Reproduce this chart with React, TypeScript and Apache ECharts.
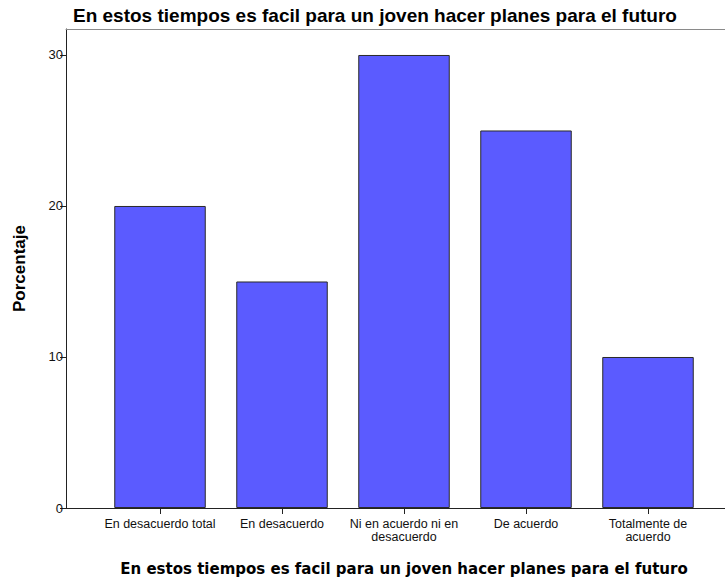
import React, { useEffect, useRef } from "react";
import * as echarts from "echarts";

const categories = [
  "En desacuerdo total",
  "En desacuerdo",
  "Ni en acuerdo ni en\ndesacuerdo",
  "De acuerdo",
  "Totalmente de\nacuerdo",
];
const percentages = [20, 15, 30, 25, 10];
const yTicks = [0, 10, 20, 30];
const titleText = "En estos tiempos es facil para un joven hacer planes para el futuro";
const yName = "Porcentaje";

export default function App() {
  const ref = useRef<HTMLDivElement>(null);
  useEffect(() => {
    if (!ref.current) return;
    const chart = echarts.init(ref.current, undefined, { renderer: "svg" });
    const yMax = 31.72;
    const gridCommon = { top: 29, bottom: 75, containLabel: false, outerBoundsMode: "none" } as any;
    chart.setOption({
      animation: false,
      backgroundColor: "#fff",
      title: {
        text: titleText,
        left: 68,
        top: 1,
        textStyle: { fontFamily: "Liberation Sans", fontSize: 19, fontWeight: "bold", color: "#000" },
      },
      grid: [
        { ...gridCommon, left: 66, right: 0 },
        { ...gridCommon, left: 99, right: 16 },
      ],
      xAxis: [
        {
          gridIndex: 0,
          type: "value",
          min: 0,
          max: 1,
          position: "bottom",
          axisLine: { show: true, lineStyle: { color: "#222", width: 1 } },
          axisTick: { show: false },
          axisLabel: { show: false },
          splitLine: { show: false },
        },
        {
          gridIndex: 0,
          type: "value",
          min: 0,
          max: 1,
          position: "top",
          axisLine: { show: true, lineStyle: { color: "#8a8a8a", width: 1 } },
          axisTick: { show: false },
          axisLabel: { show: false },
          splitLine: { show: false },
        },
        {
          gridIndex: 1,
          type: "category",
          data: categories,
          axisLine: { show: false },
          axisTick: { show: true, alignWithLabel: true, length: 6, lineStyle: { color: "#222" } },
          axisLabel: {
            fontFamily: "Liberation Sans",
            fontSize: 12.5,
            color: "#111",
            margin: 9,
            lineHeight: 13.5,
            interval: 0,
          },
          name: titleText,
          nameLocation: "middle",
          nameGap: 53,
          nameTextStyle: { fontFamily: "DejaVu Sans", fontSize: 15, fontWeight: "bold", color: "#000" },
        },
      ],
      yAxis: [
        {
          gridIndex: 0,
          type: "value",
          min: 0,
          max: yMax,
          interval: 10,
          axisLine: { show: true, lineStyle: { color: "#222", width: 1 } },
          axisTick: { show: true, length: 6, lineStyle: { color: "#222" } },
          axisLabel: {
            fontFamily: "Liberation Sans",
            fontSize: 13,
            color: "#111",
            margin: 3,
            showMaxLabel: false,
            formatter: (v: number) => (yTicks.includes(v) ? String(v) : ""),
          },
          splitLine: { show: false },
          name: yName,
          nameLocation: "middle",
          nameGap: 38,
          nameRotate: 90,
          nameTextStyle: { fontFamily: "Liberation Sans", fontSize: 17, fontWeight: "bold", color: "#000" },
        },
        {
          gridIndex: 1,
          type: "value",
          min: 0,
          max: yMax,
          show: false,
          splitLine: { show: false },
        },
      ],
      series: [
        {
          type: "bar",
          xAxisIndex: 2,
          yAxisIndex: 1,
          data: percentages,
          barWidth: "75%",
          itemStyle: { color: "#5b5bff", borderColor: "#2a2a2a", borderWidth: 1 },
        },
      ],
    });
    return () => chart.dispose();
  }, []);
  return <div ref={ref} style={{ width: 725, height: 583, position: "absolute", left: 0, top: 0 }} />;
}
